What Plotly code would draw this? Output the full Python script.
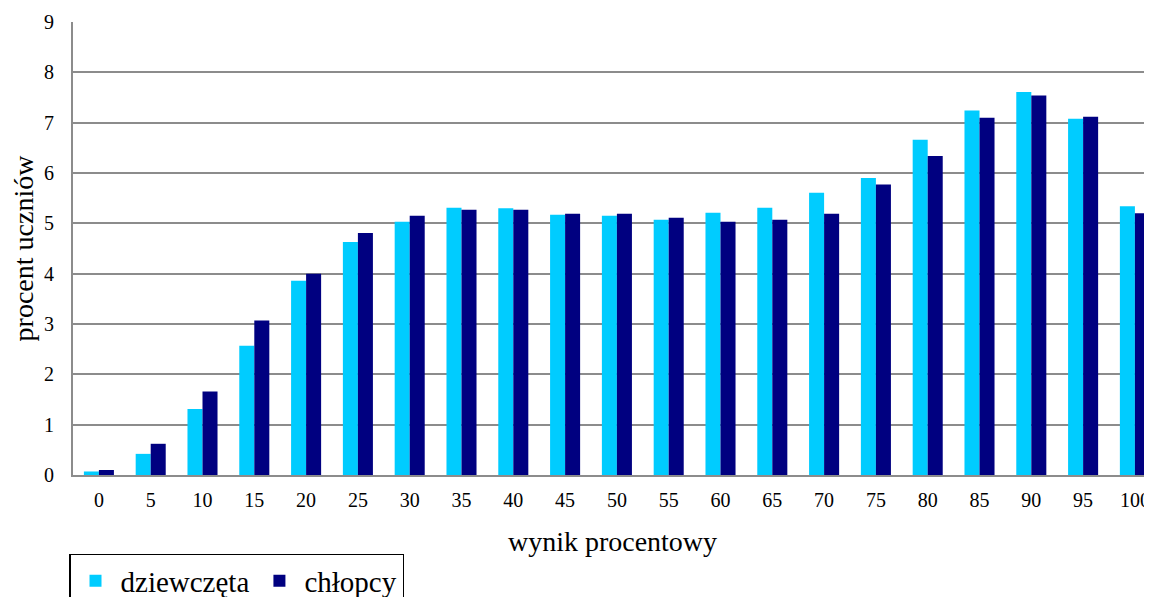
import plotly.graph_objects as go

categories = ["0", "5", "10", "15", "20", "25", "30", "35", "40", "45", "50",
              "55", "60", "65", "70", "75", "80", "85", "90", "95", "100"]
dziewczeta = [0.07, 0.42, 1.31, 2.57, 3.86, 4.63, 5.03, 5.31, 5.30, 5.17, 5.15,
              5.07, 5.21, 5.31, 5.61, 5.90, 6.66, 7.24, 7.61, 7.08, 5.34]
chlopcy = [0.10, 0.62, 1.66, 3.07, 4.00, 4.81, 5.15, 5.27, 5.27, 5.19, 5.19,
           5.11, 5.03, 5.07, 5.19, 5.77, 6.34, 7.10, 7.54, 7.12, 5.20]
y_ticks = [0, 1, 2, 3, 4, 5, 6, 7, 8, 9]

FONT = "Liberation Serif, Times New Roman, serif"

fig = go.Figure()
fig.add_trace(go.Bar(x=categories, y=dziewczeta, name="dziewczęta",
                     marker=dict(color="#00CCFF", line=dict(width=0))))
fig.add_trace(go.Bar(x=categories, y=chlopcy, name="chłopcy",
                     marker=dict(color="#000080", line=dict(width=0))))

# page body has an 8px margin, so the figure is offset by 8px
fig.update_layout(
    width=1144, height=589,
    margin=dict(l=65, r=0, t=14, b=122, autoexpand=False),
    paper_bgcolor="white", plot_bgcolor="white",
    font=dict(family=FONT, color="black", size=20),
    barmode="group", bargap=0.42, bargroupgap=0,
    showlegend=True,
    legend=dict(
        orientation="h",
        x=-0.0037, xanchor="left",
        y=-0.174, yanchor="top",
        bordercolor="black", borderwidth=1.5,
        bgcolor="white",
        font=dict(family=FONT, size=29, color="black"),
        itemwidth=40,
        traceorder="normal",
    ),
)

fig.update_xaxes(
    type="category",
    range=[-0.5, 20.33],
    showline=True, linecolor="#8C8C8C", linewidth=2,
    showgrid=False, ticks="",
    tickfont=dict(family=FONT, size=20),
    ticklabelstandoff=6,
    automargin=True,
    title=dict(text="wynik procentowy", font=dict(family=FONT, size=28), standoff=21),
)
fig.update_yaxes(
    range=[0, 9],
    tickvals=y_ticks,
    showline=True, linecolor="#8C8C8C", linewidth=2,
    showgrid=True, gridcolor="#8C8C8C", gridwidth=2,
    zeroline=False, ticks="",
    tickfont=dict(family=FONT, size=20),
    ticklabelstandoff=13,
    automargin=True,
    title=dict(text="procent uczniów", font=dict(family=FONT, size=28), standoff=2),
)

fig.write_html("out.html")
